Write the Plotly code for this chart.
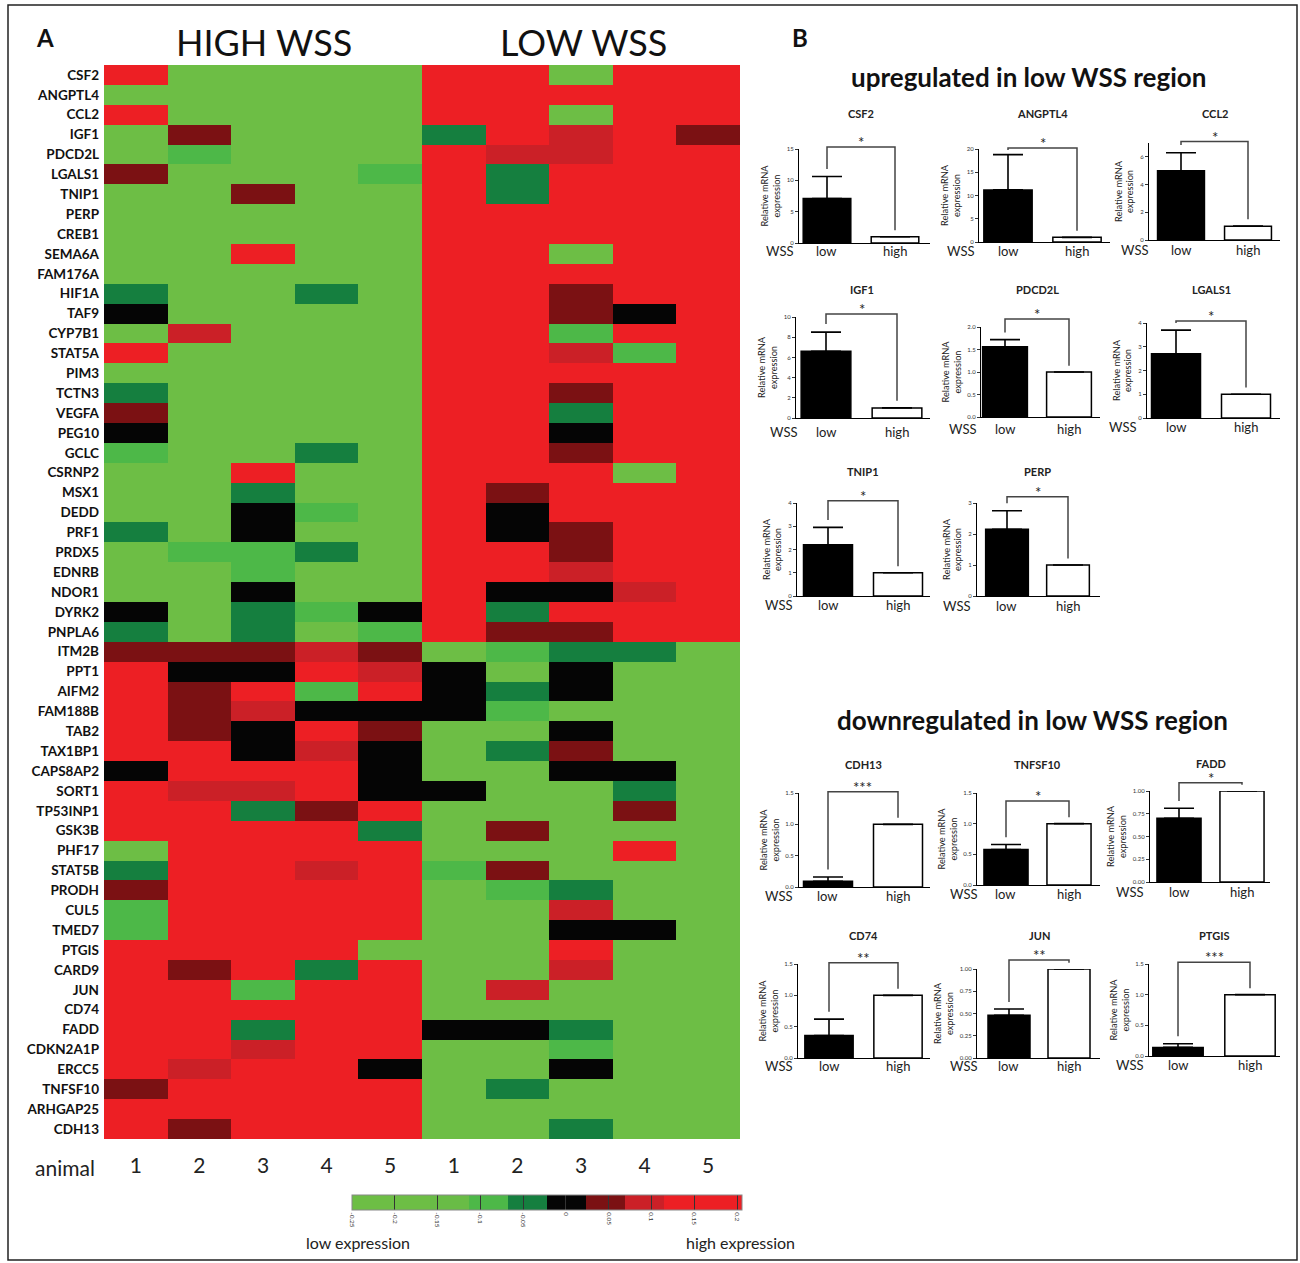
import plotly.graph_objects as go

W, H = 1300, 1263

# ---------------- DATA: panel A heatmap ----------------
genes = ["CSF2", "ANGPTL4", "CCL2", "IGF1", "PDCD2L", "LGALS1", "TNIP1", "PERP", "CREB1",
         "SEMA6A", "FAM176A", "HIF1A", "TAF9", "CYP7B1", "STAT5A", "PIM3", "TCTN3", "VEGFA",
         "PEG10", "GCLC", "CSRNP2", "MSX1", "DEDD", "PRF1", "PRDX5", "EDNRB", "NDOR1", "DYRK2",
         "PNPLA6", "ITM2B", "PPT1", "AIFM2", "FAM188B", "TAB2", "TAX1BP1", "CAPS8AP2", "SORT1",
         "TP53INP1", "GSK3B", "PHF17", "STAT5B", "PRODH", "CUL5", "TMED7", "PTGIS", "CARD9",
         "JUN", "CD74", "FADD", "CDKN2A1P", "ERCC5", "TNFSF10", "ARHGAP25", "CDH13"]

animal_labels = ["1", "2", "3", "4", "5", "1", "2", "3", "4", "5"]

# expression class per cell (HIGH WSS animals 1-5, then LOW WSS animals 1-5)
# 0 light green, 1 green, 2 dark green, 3 black, 4 dark red, 5 red, 6 bright red
heat_rows = [
    "6000066066", "0000066666", "6000066066", "0400026564", "0100065566",
    "4000162666", "0040062666", "0000066666", "0000066666", "0060066066",
    "0000066666", "2002066466", "3000066436", "0500066166", "6000066516",
    "0000066666", "2000066466", "4000066266", "3000066366", "1002066466",
    "0060066606", "0020064666", "0031063666", "2030063466", "0112066466",
    "0010066566", "0030063356", "3021362666", "2020164466",
    "4445401220", "6336530300", "6461632300", "6453331000", "6436400300",
    "6635302400", "3666300330", "6556330020", "6624600040", "6666204000",
    "0666600060", "2665614000", "4666601200", "1666600500", "1666600330",
    "6666000600", "6462600500", "6616605000", "6666600000", "6626633200",
    "6656600100", "6566300300", "4666602000", "6666600000", "6466600200",
]
class_values = [-0.2, -0.095, -0.045, 0.0, 0.045, 0.09, 0.17]

cbar_ticks = [-0.25, -0.2, -0.15, -0.1, -0.05, 0, 0.05, 0.1, 0.15, 0.2]
cbar_ticktext = ["-0.25", "-0.2", "-0.15", "-0.1", "-0.05", "0", "0.05", "0.1", "0.15", "0.2"]

# ---------------- DATA: panel B bar charts ----------------
bar_genes = ["CSF2", "ANGPTL4", "CCL2", "IGF1", "PDCD2L", "LGALS1", "TNIP1", "PERP",
             "CDH13", "TNFSF10", "FADD", "CD74", "JUN", "PTGIS"]
low_mean = [7.1, 11.2, 5.0, 6.6, 1.56, 2.7, 2.2, 2.15, 0.09, 0.58, 0.70, 0.36, 0.48, 0.14]
low_err = [3.5, 7.6, 1.3, 1.9, 0.16, 1.0, 0.75, 0.6, 0.07, 0.08, 0.11, 0.26, 0.07, 0.06]
high_mean = [1.0, 1.0, 1.0, 1.0, 1.0, 1.0, 1.0, 1.0, 1.0, 1.0, 1.0, 1.0, 1.0, 1.0]
sig_text = ["*", "*", "*", "*", "*", "*", "*", "*", "***", "*", "*", "**", "**", "***"]
sig_level = [15.3, 20.2, 7.1, 10.3, 2.18, 4.08, 4.1, 3.2, 1.52, 1.37, 1.09, 1.52, 1.10, 1.53]
bar_categories = ["low", "high"]
group_label = "WSS"

# ---------------- LAYOUT POSITIONS (pixels) ----------------
# axis_x, low_center, high_center, right_x, top_y, base_y, ymax, dtick, fmt, title_y, label_y, wss_x
bar_pos = [
    (799, 827, 895, 930, 149, 243, 15, 5, "d", 113, 251, 780),
    (979, 1008, 1077, 1110, 149, 242, 20, 5, "d", 113, 251, 961),
    (1149, 1181, 1248, 1280, 143, 240, 7, 2, "d", 113, 250, 1135),
    (796, 826, 897, 930, 317, 418, 10, 2, "d", 290, 432, 784),
    (981, 1005, 1069, 1100, 327, 417, 2, 0.5, ".1f", 290, 429, 963),
    (1147, 1176, 1246, 1280, 323, 418, 4, 1, "d", 290, 427, 1123),
    (797, 828, 898, 930, 503, 596, 4, 1, "d", 471, 605, 779),
    (977, 1007, 1068, 1100, 503, 596, 3, 1, "d", 471, 606, 957),
    (799, 828, 898, 930, 793, 887, 1.5, 0.5, ".1f", 764, 896, 779),
    (977, 1006, 1069, 1100, 793, 885, 1.5, 0.5, ".1f", 764, 894, 964),
    (1150, 1179, 1242, 1270, 791, 882, 1.0, 0.25, ".2f", 763, 892, 1130),
    (798, 829, 898, 930, 964, 1058, 1.5, 0.5, ".1f", 935, 1066, 779),
    (977, 1009, 1069, 1100, 969, 1058, 1.0, 0.25, ".2f", 935, 1066, 964),
    (1149, 1178, 1250, 1280, 964, 1056, 1.5, 0.5, ".1f", 935, 1065, 1130),
]


def fx(px):
    return px / W


def fy(py):
    return 1 - py / H


FONT = "Lato, 'Open Sans', sans-serif"
TXT = "#1a1a1a"

fig = go.Figure()

# ---------------- heatmap ----------------
z = [[class_values[int(c)] for c in row] for row in heat_rows]
zmin, zmax = -0.25, 0.2058
bin_colors = ["#6DBE45", "#6DBE45", "#69BC46", "#4DB848", "#157F3F",
              "#050505", "#7B1113", "#CB2027", "#ED1F24", "#ED1F24"]
cs = []
for i, c in enumerate(bin_colors):
    cs.append([i / 10, c])
    cs.append([(i + 1) / 10, c])

fig.add_trace(go.Heatmap(
    z=z, x=list(range(10)), y=list(range(len(genes))),
    colorscale=cs, zmin=zmin, zmax=zmax, xaxis="x", yaxis="y",
    hoverinfo="skip",
    colorbar=dict(
        orientation="h", x=fx(547), xanchor="center", y=fy(1195), yanchor="top",
        lenmode="pixels", len=390, thicknessmode="pixels", thickness=15,
        xpad=0, ypad=0, ticks="inside", ticklen=15, tickwidth=1, tickcolor="#333",
        tickvals=cbar_ticks, ticktext=cbar_ticktext, tickangle=90,
        tickfont=dict(size=6.5, color="#333", family=FONT),
        outlinewidth=1, outlinecolor="#888",
    ),
))

layout = dict(
    width=W, height=H, margin=dict(l=0, r=0, t=0, b=0, pad=0, autoexpand=False),
    paper_bgcolor="white", plot_bgcolor="rgba(0,0,0,0)", showlegend=False,
    font=dict(family=FONT, color=TXT),
    xaxis=dict(domain=[fx(104), fx(740)], anchor="y", range=[-0.5, 9.5],
               tickvals=list(range(10)), ticktext=animal_labels, ticks="",
               ticklabelstandoff=12, tickfont=dict(size=21, color="#222"),
               automargin=False, showgrid=False, zeroline=False, showline=False),
    yaxis=dict(domain=[fy(1139), fy(65)], anchor="x", range=[len(genes) - 0.5, -0.5],
               tickvals=list(range(len(genes))), ticktext=genes, ticks="",
               ticklabelstandoff=4, tickfont=dict(size=13.5, color="#111", weight="bold"),
               automargin=False, showgrid=False, zeroline=False, showline=False),
)

annotations = []
shapes = []


def label(px, py, text, size, **kw):
    d = dict(xref="paper", yref="paper", x=fx(px), y=fy(py), text=text,
             showarrow=False, xanchor="center", yanchor="middle",
             font=dict(size=size, color=kw.pop("color", "#222")))
    d.update(kw)
    return d


# ---------------- bar charts ----------------
for i, g in enumerate(bar_genes):
    ax_x, c_lo, c_hi, right, top, base, ymax, dtick, fmt, title_y, lab_y, wss_x = bar_pos[i]
    n = i + 2
    m = i + 16
    unit = c_hi - c_lo
    xr = [-(c_lo - ax_x) / unit, 1 + (right - c_hi) / unit]
    ppu = (base - top) / ymax
    brk_top_px = title_y + 8
    yb_max = (base - brk_top_px) / ppu

    fig.add_trace(go.Bar(
        x=[0, 1], y=[low_mean[i], high_mean[i]], width=0.7,
        marker=dict(color=["black", "white"], line=dict(color="black", width=1.5)),
        error_y=dict(type="data", symmetric=False, array=[low_err[i], 0],
                     arrayminus=[0, 0], color="black", thickness=1.6, width=15),
        xaxis=f"x{n}", yaxis=f"y{n}", hoverinfo="skip",
    ))

    left_leg = min(low_mean[i] + low_err[i] + 0.08 * ymax, sig_level[i] - 0.02 * ymax)
    right_leg = high_mean[i] + 0.07 * ymax
    fig.add_trace(go.Scatter(
        x=[0, 0, 1, 1], y=[left_leg, sig_level[i], sig_level[i], right_leg],
        mode="lines", line=dict(color="#444", width=1.5),
        xaxis=f"x{n}", yaxis=f"y{m}", hoverinfo="skip",
    ))

    layout[f"xaxis{n}"] = dict(
        domain=[fx(ax_x), fx(right)], anchor=f"y{n}", range=xr,
        showticklabels=False, ticks="", showline=True, linecolor="black",
        linewidth=1.2, showgrid=False, zeroline=False, automargin=False,
    )
    layout[f"yaxis{n}"] = dict(
        domain=[fy(base), fy(top)], anchor=f"x{n}", range=[0, ymax],
        tick0=0, dtick=dtick, tickformat=fmt, ticks="outside", ticklen=3,
        tickwidth=1, tickcolor="#333", tickfont=dict(size=6, color="#333"),
        showline=True, linecolor="black", linewidth=1.2, showgrid=False, zeroline=False,
        automargin=False,
        title=dict(text="Relative mRNA<br>expression", font=dict(size=9.2, color="#222"),
                   standoff=4),
    )
    layout[f"yaxis{m}"] = dict(
        domain=[fy(base), fy(brk_top_px)], anchor=f"x{n}", range=[0, yb_max],
        visible=False, showgrid=False, zeroline=False, automargin=False,
    )

    annotations.append(dict(
        xref=f"x{n}", yref=f"y{m}", x=0.5, y=sig_level[i], text=sig_text[i],
        showarrow=False, xanchor="center", yanchor="bottom", yshift=-6,
        font=dict(size=15, color="#222"),
    ))
    for k, cat in enumerate(bar_categories):
        annotations.append(dict(
            xref=f"x{n}", yref="paper", x=k, y=fy(lab_y), text=cat,
            showarrow=False, xanchor="center", yanchor="middle",
            font=dict(size=13, color="#222"),
        ))
    annotations.append(label((c_lo + c_hi) / 2, title_y, f"<b>{g}</b>", 11))
    annotations.append(label(wss_x, lab_y, group_label, 13))

# ---------------- text ----------------
annotations += [
    label(45, 37, "<b>A</b>", 24, color="#111"),
    label(800, 37, "<b>B</b>", 24, color="#111"),
    label(264, 42, "HIGH WSS", 36, color="#111"),
    label(583, 42, "LOW WSS", 36, color="#111"),
    label(65, 1167, "animal", 21),
    label(358, 1242, "low expression", 16),
    label(741, 1242, "high expression", 16),
    label(1028, 77, "<b>upregulated in low WSS region</b>", 26, color="#111"),
    label(1032, 720, "<b>downregulated in low WSS region</b>", 26, color="#111"),
]

shapes.append(dict(type="rect", xref="paper", yref="paper",
                   x0=fx(8), x1=fx(1297), y0=fy(1260), y1=fy(5),
                   line=dict(color="#222", width=1.5)))

layout["annotations"] = annotations
layout["shapes"] = shapes
fig.update_layout(**layout)

post = (
    "document.documentElement.style.margin='0';"
    "document.body.style.margin='0';"
    "document.body.style.overflow='hidden';"
    "var gd=document.getElementById('{plot_id}');"
    "gd.style.position='fixed';gd.style.left='0px';gd.style.top='0px';"
)
fig.write_html("out.html", post_script=post, config={"displayModeBar": False})
